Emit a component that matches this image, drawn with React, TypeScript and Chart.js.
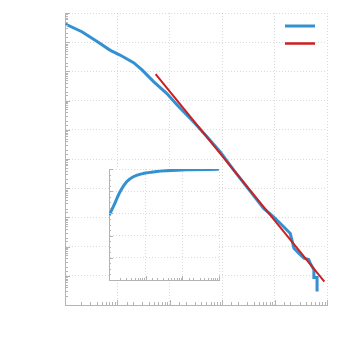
import React, { useEffect, useRef } from "react";
import { Chart, registerables } from "chart.js";
Chart.register(...registerables);

// Main series (log-log)
const mainX = [1.02, 2.1, 4.1, 7.2, 11.2, 20.4, 29.5, 49, 87, 138, 282, 513, 912, 1660, 3470, 6170, 9550, 13800, 19950, 23400, 28800, 36300, 44700, 47900, 56200, 56200, 64600, 64600];
const mainY = [0.417, 0.229, 0.105, 0.0537, 0.0363, 0.02, 0.0112, 0.00447, 0.00178, 7.1e-4, 1.9e-4, 5.75e-5, 1.78e-5, 4.17e-6, 7.6e-7, 2.04e-7, 1.05e-7, 5.5e-8, 2.8e-8, 8.7e-9, 5.9e-9, 4.0e-9, 3.6e-9, 2.7e-9, 1.6e-9, 8.7e-10, 8.7e-10, 2.9e-10];
// Power-law fit line
const fitX = [53.7, 89100];
const fitY = [8.1e-3, 6.3e-10];
// Inset series (log x, linear y)
const insetX = [1.02, 1.31, 2.0, 3.03, 4.6, 8.6, 20, 37, 132, 990];
const insetY = [0.585, 0.66, 0.795, 0.885, 0.93, 0.96, 0.978, 0.985, 0.994, 0.997];

const BLUE = "#3391d2";
const RED = "#cc1f1f";
const AXIS = "#b4b4b4";
const GRID = "rgba(0,0,0,0.14)";

const isDecade = (v: number) => {
  const l = Math.log10(v);
  return Math.abs(l - Math.round(l)) < 1e-6;
};
const isStep = (v: number, s: number) => Math.abs(v / s - Math.round(v / s)) < 1e-6;

const majorTest = (scale: any, v: number) =>
  scale.type === "logarithmic" ? isDecade(v) : isStep(v, 0.2);

const innerTicks = {
  id: "innerTicks",
  afterDraw(chart: any, _a: any, opts: any) {
    const { ctx, chartArea } = chart;
    const xs = chart.scales.x, ys = chart.scales.y;
    ctx.save();
    ctx.strokeStyle = opts.color || AXIS;
    ctx.lineWidth = 1;
    ctx.beginPath();
    for (const t of xs.ticks) {
      const px = Math.round(xs.getPixelForValue(t.value)) + 0.5;
      const len = majorTest(xs, t.value) ? opts.major : opts.minor;
      ctx.moveTo(px, chartArea.bottom);
      ctx.lineTo(px, chartArea.bottom - len);
    }
    for (const t of ys.ticks) {
      const py = Math.round(ys.getPixelForValue(t.value)) + 0.5;
      const len = majorTest(ys, t.value) ? opts.major : opts.minor;
      ctx.moveTo(chartArea.left, py);
      ctx.lineTo(chartArea.left + len, py);
    }
    ctx.stroke();
    ctx.restore();
  },
};

const lineLegend = {
  id: "lineLegend",
  afterDraw(chart: any, _a: any, opts: any) {
    if (!opts || !opts.enabled) return;
    const { ctx, chartArea } = chart;
    chart.data.datasets.forEach((ds: any, i: number) => {
      const y = chartArea.top + 13 + i * 17.5;
      ctx.save();
      ctx.strokeStyle = ds.borderColor;
      ctx.lineWidth = ds.legendWidth || ds.borderWidth;
      ctx.beginPath();
      ctx.moveTo(chartArea.right - 42, y);
      ctx.lineTo(chartArea.right - 12, y);
      ctx.stroke();
      ctx.restore();
    });
  },
};

const whiteArea = {
  id: "whiteArea",
  beforeDraw(chart: any, _a: any, opts: any) {
    if (!opts || !opts.enabled) return;
    const { ctx, chartArea } = chart;
    ctx.save();
    ctx.fillStyle = "#ffffff";
    ctx.fillRect(chartArea.left, chartArea.top, chartArea.right - chartArea.left, chartArea.bottom - chartArea.top);
    ctx.restore();
  },
};

const logGridColor = (c: any) => (c && c.tick && isDecade(c.tick.value) ? GRID : "rgba(0,0,0,0)");
const linGridColor = (c: any) => (c && c.tick && isStep(c.tick.value, 0.2) ? GRID : "rgba(0,0,0,0)");

const logAxis = (min: number, max: number) => ({
  type: "logarithmic" as const,
  min,
  max,
  ticks: { display: false },
  grid: { color: logGridColor, drawTicks: false, lineWidth: 1 },
  border: { display: true, color: AXIS, width: 1, dash: [1, 2] },
});

const linAxis = (min: number, max: number, step: number) => ({
  type: "linear" as const,
  min,
  max,
  ticks: { display: false, stepSize: step },
  grid: { color: linGridColor, drawTicks: false, lineWidth: 1 },
  border: { display: true, color: AXIS, width: 1, dash: [1, 2] },
});

export default function App() {
  const mainRef = useRef<HTMLCanvasElement>(null);
  const insetRef = useRef<HTMLCanvasElement>(null);

  useEffect(() => {
    const main = new Chart(mainRef.current!, {
      type: "line",
      data: {
        datasets: [
          {
            data: mainX.map((x, i) => ({ x, y: mainY[i] })),
            borderColor: BLUE,
            borderWidth: 3,
            legendWidth: 3,
            pointRadius: 0,
            tension: 0,
            order: 2,
          } as any,
          {
            data: fitX.map((x, i) => ({ x, y: fitY[i] })),
            borderColor: RED,
            borderWidth: 2,
            legendWidth: 2.5,
            pointRadius: 0,
            order: 1,
          } as any,
        ],
      },
      options: {
        responsive: false,
        animation: false,
        events: [],
        layout: { padding: { left: 65, top: 13, right: 18, bottom: 40 } },
        scales: { x: logAxis(1, 1e5), y: logAxis(1e-10, 1) } as any,
        plugins: {
          legend: { display: false },
          tooltip: { enabled: false },
          innerTicks: { major: 5, minor: 3, color: AXIS },
          lineLegend: { enabled: true },
        } as any,
      },
      plugins: [innerTicks, lineLegend],
    });

    const inset = new Chart(insetRef.current!, {
      type: "line",
      data: {
        datasets: [
          {
            data: insetX.map((x, i) => ({ x, y: insetY[i] })),
            borderColor: BLUE,
            borderWidth: 3,
            pointRadius: 0,
            cubicInterpolationMode: "monotone",
          } as any,
        ],
      },
      options: {
        responsive: false,
        animation: false,
        events: [],
        layout: { padding: { left: 9, top: 9, right: 11, bottom: 10 } },
        scales: { x: logAxis(1, 1000), y: linAxis(0, 1, 0.05) } as any,
        plugins: {
          legend: { display: false },
          tooltip: { enabled: false },
          innerTicks: { major: 4, minor: 2, color: AXIS },
          whiteArea: { enabled: true },
        } as any,
      },
      plugins: [whiteArea, innerTicks],
    });

    return () => {
      main.destroy();
      inset.destroy();
    };
  }, []);

  return (
    <div style={{ position: "fixed", left: 0, top: 0, width: 345, height: 345, background: "#fff" }}>
      <canvas ref={mainRef} width={345} height={345} style={{ position: "absolute", left: 0, top: 0 }} />
      <canvas ref={insetRef} width={130} height={130} style={{ position: "absolute", left: 100, top: 160 }} />
    </div>
  );
}
